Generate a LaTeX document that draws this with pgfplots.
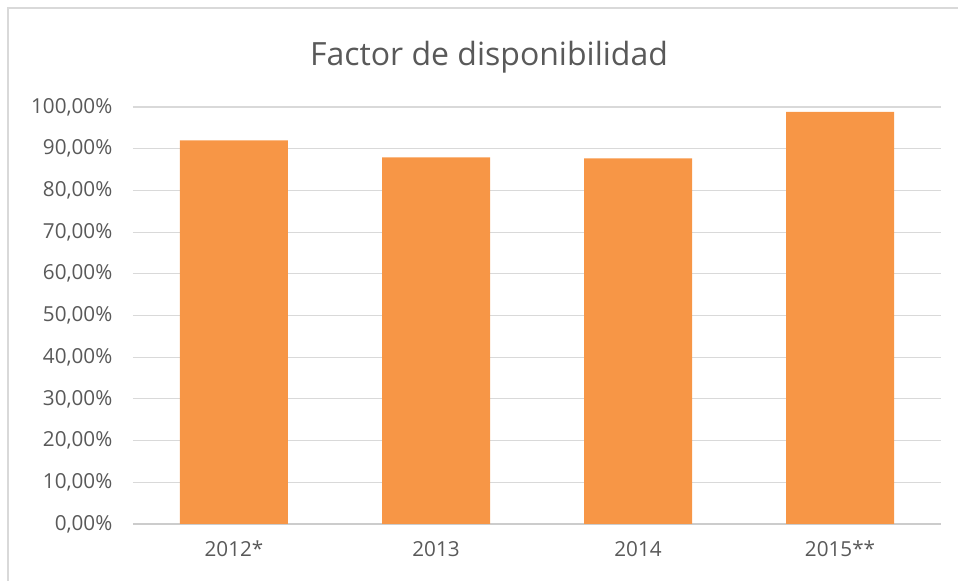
\documentclass[border=0pt]{standalone}
\usepackage{pgfplots}
\pgfplotsset{compat=1.18}
\usepackage{fontspec}
\setmainfont{Open Sans}
\definecolor{barorange}{HTML}{F79646}
\definecolor{txtgray}{HTML}{595959}
\definecolor{gridgray}{HTML}{D9D9D9}
\definecolor{framegray}{HTML}{D9D9D9}
\begin{document}
\begin{tikzpicture}[x=0.75pt,y=0.75pt]
\path[use as bounding box] (0,0) rectangle (958,581);
\draw[framegray,line width=1pt] (8,0) -- (8,573) -- (958,573);
\node[txtgray,font=\fontsize{24}{28}\selectfont] at (489,524) {Factor de disponibilidad};
\begin{axis}[
  at={(99.75pt,42.75pt)}, anchor=south west,
  scale only axis, width=606pt, height=312.75pt,
  xmin=-0.5, xmax=3.5, ymin=0, ymax=1,
  ybar, bar width=81pt,
  axis x line*=bottom, axis y line*=left,
  x axis line style={-, draw=gridgray!85!gray, line width=0.8pt},
  y axis line style={draw=none},
  xtick={0,1,2,3}, xticklabels={2012*,2013,2014,2015**},
  xtick style={draw=none}, ytick style={draw=none},
  ytick={0,0.1,0.2,0.3,0.4,0.5,0.6,0.7,0.8,0.9,1},
  yticklabels={{0,00\%},{10,00\%},{20,00\%},{30,00\%},{40,00\%},{50,00\%},{60,00\%},{70,00\%},{80,00\%},{90,00\%},{100,00\%}},
  ymajorgrids, major grid style={gridgray, line width=0.8pt},
  ticklabel style={txtgray, font=\fontsize{15.5}{18}\selectfont},
  xticklabel style={yshift=-5pt},
  yticklabel style={xshift=-12pt},
  clip=false,
]
\addplot[fill=barorange, draw=none] coordinates {(0,0.920) (1,0.879) (2,0.877) (3,0.988)};
\end{axis}
\end{tikzpicture}
\end{document}
